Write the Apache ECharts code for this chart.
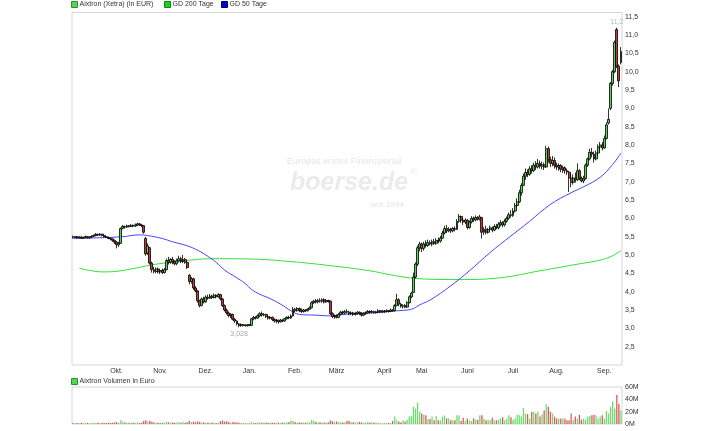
<!DOCTYPE html>
<html>
<head>
<meta charset="utf-8">
<script src="https://cdn.jsdelivr.net/npm/echarts@6/dist/echarts.min.js"></script>
<style>
  html, body { margin: 0; padding: 0; background: #fff; }
  #main { width: 719px; height: 431px; }
</style>
</head>
<body>
<div id="main"></div>
<script>
// Aixtron (Xetra), Tageskerzen [open, close, low, high] ab 05.09.2016
const ohlc = [
  // Sep. 2016
  [5.50,5.48,5.45,5.53],[5.48,5.50,5.46,5.52],[5.50,5.47,5.45,5.52],[5.47,5.49,5.45,5.51],[5.49,5.46,5.44,5.51],
  [5.46,5.48,5.44,5.50],[5.48,5.50,5.46,5.53],[5.50,5.47,5.45,5.52],[5.47,5.49,5.45,5.51],[5.49,5.51,5.47,5.54],
  [5.51,5.53,5.49,5.56],[5.53,5.56,5.51,5.60],[5.56,5.54,5.52,5.59],[5.54,5.57,5.52,5.60],[5.57,5.53,5.51,5.58],
  [5.53,5.50,5.48,5.55],[5.50,5.48,5.46,5.52],[5.48,5.45,5.43,5.50],[5.45,5.44,5.40,5.48],[5.44,5.40,5.36,5.46],
  // Okt.
  [5.40,5.35,5.30,5.42],[5.35,5.28,5.18,5.38],[5.28,5.32,5.22,5.36],[5.32,5.72,5.30,5.75],[5.72,5.78,5.70,5.82],
  [5.78,5.76,5.72,5.80],[5.76,5.80,5.74,5.83],[5.80,5.78,5.75,5.82],[5.78,5.81,5.76,5.84],[5.81,5.79,5.76,5.83],
  [5.79,5.82,5.77,5.86],[5.82,5.85,5.79,5.88],[5.85,5.82,5.79,5.87],[5.82,5.80,5.76,5.85],[5.80,5.62,5.58,5.82],
  [5.45,5.03,4.98,5.50],[5.05,5.25,5.00,5.32],[5.20,4.78,4.74,5.22],[4.78,4.60,4.52,4.82],[4.60,4.55,4.50,4.68],
  [4.55,4.62,4.50,4.66],
  // Nov.
  [4.62,4.54,4.50,4.66],[4.54,4.58,4.48,4.62],[4.58,4.52,4.48,4.63],[4.52,4.60,4.50,4.65],
  [4.60,4.85,4.58,4.90],[4.85,4.80,4.74,4.95],[4.80,4.88,4.76,4.92],[4.88,4.82,4.75,4.95],[4.82,4.76,4.72,4.86],
  [4.76,4.84,4.72,4.90],[4.84,4.90,4.80,4.98],[4.90,4.82,4.78,4.95],[4.82,4.88,4.78,5.00],[4.88,4.80,4.76,4.92],
  [4.80,4.66,4.62,4.82],[4.45,4.28,4.20,4.48],[4.28,4.35,4.22,4.40],[4.35,4.10,4.05,4.38],[4.10,4.02,3.98,4.15],
  [4.02,3.75,3.70,4.05],[3.75,3.62,3.57,3.78],[3.62,3.80,3.60,3.84],
  // Dez.
  [3.80,3.72,3.68,3.86],[3.72,3.85,3.70,3.90],[3.85,3.82,3.78,3.92],[3.82,3.88,3.80,3.94],[3.88,3.84,3.80,3.92],
  [3.84,3.90,3.82,3.95],[3.90,3.86,3.82,3.93],[3.86,3.92,3.84,3.96],[3.92,3.80,3.76,3.94],[3.80,3.62,3.58,3.82],
  [3.62,3.50,3.46,3.65],[3.50,3.42,3.38,3.54],[3.42,3.35,3.30,3.46],[3.35,3.38,3.28,3.42],[3.38,3.25,3.22,3.40],
  [3.25,3.20,3.15,3.28],[3.20,3.12,3.08,3.22],[3.12,3.08,3.028,3.14],[3.08,3.10,3.04,3.13],[3.10,3.08,3.05,3.12],
  [3.08,3.07,3.05,3.11],
  // Jan. 2017
  [3.07,3.10,3.05,3.12],[3.10,3.08,3.06,3.12],[3.08,3.26,3.07,3.28],[3.26,3.30,3.22,3.34],[3.30,3.28,3.24,3.33],
  [3.28,3.34,3.26,3.38],[3.34,3.40,3.30,3.44],[3.40,3.36,3.32,3.46],[3.36,3.38,3.33,3.42],[3.38,3.32,3.28,3.40],
  [3.32,3.28,3.24,3.35],[3.28,3.30,3.24,3.33],[3.30,3.24,3.20,3.32],[3.24,3.20,3.16,3.27],[3.20,3.22,3.14,3.26],
  [3.22,3.18,3.13,3.24],[3.18,3.22,3.16,3.26],[3.22,3.20,3.17,3.25],[3.20,3.26,3.18,3.28],[3.26,3.30,3.24,3.33],
  [3.30,3.28,3.25,3.34],[3.28,3.34,3.26,3.38],
  // Feb.
  [3.34,3.52,3.32,3.58],[3.52,3.48,3.44,3.56],[3.48,3.54,3.46,3.58],[3.54,3.50,3.44,3.57],[3.50,3.46,3.42,3.54],
  [3.46,3.50,3.43,3.53],[3.50,3.48,3.44,3.52],[3.48,3.52,3.46,3.55],[3.52,3.56,3.50,3.60],[3.56,3.70,3.54,3.74],
  [3.70,3.74,3.66,3.78],[3.74,3.72,3.68,3.80],[3.72,3.76,3.68,3.80],[3.76,3.74,3.70,3.82],[3.74,3.78,3.70,3.82],
  [3.78,3.72,3.68,3.82],[3.72,3.76,3.70,3.80],[3.76,3.74,3.70,3.78],[3.74,3.40,3.36,3.76],[3.40,3.32,3.28,3.44],
  // März
  [3.32,3.34,3.26,3.38],[3.34,3.30,3.27,3.38],[3.30,3.38,3.28,3.42],[3.38,3.44,3.35,3.48],[3.44,3.42,3.38,3.48],
  [3.42,3.46,3.38,3.50],[3.46,3.44,3.40,3.52],[3.44,3.40,3.36,3.48],[3.40,3.42,3.36,3.46],[3.42,3.38,3.34,3.45],
  [3.38,3.40,3.35,3.44],[3.40,3.44,3.37,3.47],[3.44,3.40,3.36,3.46],[3.40,3.36,3.32,3.44],[3.36,3.40,3.34,3.44],
  [3.40,3.42,3.37,3.46],[3.42,3.46,3.40,3.50],[3.46,3.44,3.40,3.49],[3.44,3.46,3.41,3.50],[3.46,3.43,3.40,3.48],
  [3.43,3.45,3.40,3.48],[3.45,3.48,3.42,3.52],[3.48,3.45,3.42,3.50],
  // April
  [3.45,3.47,3.43,3.50],[3.47,3.46,3.42,3.50],[3.46,3.48,3.44,3.52],[3.48,3.46,3.43,3.50],[3.46,3.50,3.44,3.54],
  [3.50,3.48,3.45,3.52],[3.48,3.62,3.46,3.66],[3.62,3.78,3.60,3.94],[3.78,3.66,3.60,3.82],[3.66,3.60,3.56,3.70],
  [3.60,3.62,3.54,3.66],[3.62,3.58,3.55,3.66],[3.58,3.70,3.56,3.74],[3.70,3.86,3.68,3.90],[3.86,3.96,3.82,4.00],
  [3.98,4.40,3.96,4.52],[4.40,4.75,4.36,4.80],[4.75,5.20,4.70,5.26],
  // Mai
  [5.20,5.30,5.10,5.36],[5.30,5.18,5.08,5.34],[5.18,5.30,5.12,5.36],[5.30,5.26,5.20,5.40],[5.26,5.34,5.22,5.42],
  [5.34,5.30,5.26,5.40],[5.30,5.36,5.24,5.42],[5.36,5.32,5.28,5.44],[5.32,5.40,5.28,5.46],[5.40,5.38,5.32,5.48],
  [5.38,5.46,5.34,5.52],[5.46,5.60,5.44,5.66],[5.60,5.72,5.56,5.80],[5.72,5.66,5.60,5.82],[5.66,5.70,5.62,5.76],
  [5.70,5.66,5.60,5.74],[5.66,5.72,5.62,5.76],[5.72,5.70,5.64,5.78],[5.70,5.92,5.68,5.98],[5.92,6.05,5.88,6.12],
  [6.05,5.95,5.88,6.08],[5.95,5.90,5.82,6.00],
  // Juni
  [5.90,5.95,5.84,6.00],[5.95,5.75,5.70,5.98],[5.75,5.90,5.72,5.94],[5.90,6.00,5.86,6.06],[6.00,5.96,5.90,6.05],
  [5.96,6.02,5.92,6.08],[6.02,5.98,5.94,6.06],[5.98,6.04,5.94,6.10],[6.02,5.62,5.45,6.04],[5.62,5.70,5.55,5.76],
  [5.70,5.62,5.56,5.80],[5.62,5.70,5.58,5.74],[5.70,5.74,5.64,5.80],[5.74,5.68,5.62,5.78],[5.68,5.78,5.65,5.84],
  [5.78,5.74,5.70,5.85],[5.74,5.84,5.70,5.90],[5.84,5.88,5.78,5.95],[5.88,5.82,5.76,5.92],[5.82,5.92,5.78,5.98],
  [5.92,6.00,5.88,6.05],[6.00,6.10,5.96,6.16],
  // Juli
  [6.10,6.08,6.02,6.22],[6.08,6.20,6.04,6.28],[6.20,6.35,6.16,6.42],[6.35,6.45,6.28,6.55],[6.45,6.70,6.42,6.78],
  [6.70,6.90,6.62,6.96],[6.90,7.15,6.88,7.22],[7.15,7.25,7.05,7.36],[7.25,7.20,7.12,7.34],[7.20,7.35,7.16,7.42],
  [7.35,7.30,7.22,7.45],[7.30,7.45,7.26,7.52],[7.45,7.40,7.32,7.56],[7.40,7.50,7.36,7.62],[7.50,7.42,7.36,7.58],
  [7.42,7.46,7.34,7.55],[7.46,7.40,7.32,7.52],[7.40,7.90,7.38,7.98],[7.90,7.60,7.52,7.96],[7.60,7.50,7.40,7.68],
  [7.50,7.58,7.42,7.70],
  // Aug.
  [7.58,7.45,7.36,7.66],[7.45,7.40,7.32,7.52],[7.40,7.44,7.30,7.50],[7.44,7.34,7.26,7.48],[7.34,7.38,7.24,7.44],
  [7.38,7.30,7.22,7.42],[7.30,7.26,7.18,7.36],[7.26,7.10,6.72,7.30],[7.10,6.98,6.85,7.20],[6.98,7.10,6.92,7.20],
  [7.10,7.05,6.98,7.25],[7.05,7.30,7.02,7.50],[7.30,7.10,7.04,7.34],[7.10,7.02,6.98,7.14],[7.02,7.08,6.96,7.16],
  [7.08,7.45,7.06,7.50],[7.45,7.62,7.40,7.66],[7.62,7.80,7.58,7.90],[7.80,7.75,7.66,7.92],[7.75,7.62,7.52,7.82],
  [7.62,7.78,7.58,7.85],[7.78,7.95,7.72,8.02],[7.95,8.00,7.86,8.08],
  // Sep.
  [8.00,7.92,7.85,8.08],[7.92,8.18,7.90,8.26],[8.18,8.55,8.15,8.62],[8.60,8.70,8.56,9.00],[9.00,9.68,8.95,9.72],
  [9.68,10.00,9.62,10.05],[10.00,10.80,9.96,10.85],[11.15,10.15,10.10,11.20],[10.15,9.75,9.58,10.20],[10.25,10.55,10.20,10.67]
]

// Umsatz in Mio. Euro je Handelstag
const volume = [
  1.5,1.2,1.8,1.4,2.0,1.6,1.3,1.9,1.5,1.7, 2.1,1.8,2.4,1.6,1.9,1.5,1.8,2.2,1.7,2.0,
  2.6,3.4,2.2,6.2,4.1,2.5,2.0,1.8,2.3,1.9, 2.1,2.6,1.8,2.2,4.8,6.0,4.2,5.1,3.8,2.6,
  2.2,1.9,2.4,1.8,2.0,3.6,2.8,2.1,2.4,1.9, 2.3,2.8,2.0,3.1,2.2,3.0,5.2,3.4,3.9,2.8,
  4.1,3.6,2.4,2.9,2.2,2.6,1.9,2.3,2.0,1.8, 2.2,4.6,5.8,3.9,4.4,3.1,2.6,3.3,2.8,2.4,
  2.0,1.6,1.2,1.0,1.3,1.1,2.9,2.2,1.8,2.4, 2.8,2.1,2.5,1.9,2.2,2.6,2.0,1.8,2.3,2.1,
  1.9,2.4,2.2,2.8,3.1,6.1,5.0,3.2,2.6,2.3, 2.0,2.4,2.2,2.6,3.0,7.0,5.2,3.4,2.5,2.8,
  2.4,2.1,2.7,2.3,5.8,4.6,3.5,4.2,2.8,3.2, 2.6,3.0,4.8,5.4,3.1,2.7,2.4,2.9,3.6,2.5,
  2.2,2.6,3.2,2.4,2.8,2.1,2.5,2.0,
  1.0,1.2,1.0,1.3,1.5,2.0,5.0,12,6,4, 3,6,4,7,12,13,28,25,35,20,
  17,15,14,8,8,12,6,13,6,6, 12,14,9,9,6,6,6,14,14,5,
  10,5,9,6,5,9,7,7,14,14, 9,6,7,6,10,6,6,7,9,11,
  6,9,14,11,7,9,15,14,12,26, 17,16,9,20,20,17,20,12,16,22,
  32,28,20,17,12,9,9,9,9,9, 6,6,17,7,12,9,15,7,9,7,
  12,13,14,15,14,9,12,14,9,21, 17,28,37,25,47,33,22
]

const gd50 = [
  [0,5.45],[12,5.47],[24,5.50],[32,5.55],[36,5.53],[43,5.45],[48,5.36],[54,5.27],[59,5.16],[64,5.00],
  [69,4.80],[73,4.59],[78,4.41],[83,4.22],[86,4.06],[90,3.93],[95,3.81],[100,3.66],[105,3.48],[109,3.38],
  [117,3.36],[124,3.34],[129,3.37],[138,3.41],[148,3.43],[154,3.47],[161,3.50],[164,3.54],[167,3.64],[172,3.77],
  [182,4.16],[191,4.57],[201,5.07],[211,5.52],[220,5.92],[230,6.38],[240,6.70],[246,6.86],[254,7.12],[260,7.47],
  [264,7.78]
]
const gd200 = [
  [3,4.64],[8,4.58],[14,4.54],[20,4.55],[28,4.62],[38,4.73],[44,4.78],[52,4.83],[60,4.88],[68,4.90],
  [86,4.89],[105,4.82],[124,4.71],[143,4.57],[153,4.46],[162,4.38],[172,4.34],[186,4.33],[206,4.38],[225,4.57],
  [244,4.76],[254,4.86],[260,4.98],[264,5.12]
]

const holidays = ['2016-12-26', '2017-04-14', '2017-04-17', '2017-05-01']
const monthNames = ['Jan.', 'Feb.', 'März', 'April', 'Mai', 'Juni', 'Juli', 'Aug.', 'Sep.', 'Okt.', 'Nov.', 'Dez.']
const yTickLabels = ['2,5', '3,0', '3,5', '4,0', '4,5', '5,0', '5,5', '6,0', '6,5', '7,0', '7,5', '8,0', '8,5', '9,0', '9,5', '10,0', '10,5', '11,0', '11,5']
const volTickLabels = ['0M', '20M', '40M', '60M']

// Xetra-Handelstage
const dates = []
let d = new Date(Date.UTC(2016, 8, 5))
while (dates.length < ohlc.length) {
  const wd = d.getUTCDay()
  const s = d.toISOString().slice(0, 10)
  if (wd !== 0 && wd !== 6 && holidays.indexOf(s) < 0) dates.push(s)
  d.setUTCDate(d.getUTCDate() + 1)
}

const monthStart = (i) => i > 0 && dates[i].slice(5, 7) !== dates[i - 1].slice(5, 7)
const font = "'Liberation Sans', Arial, sans-serif"
const upColor = '#55d455'
const downColor = '#c83a3a'
const wmColor = '#ebebeb'

const chart = echarts.init(document.getElementById('main'))
chart.setOption({
  animation: false,
  textStyle: { fontFamily: font },
  legend: [
    {
      data: ['Aixtron (Xetra) (in EUR)'], left: 71, top: 1, padding: 0, icon: 'rect',
      itemWidth: 6, itemHeight: 6, itemStyle: { borderColor: '#2f8f2f', borderWidth: 1 },
      textStyle: { fontSize: 7, color: '#333', padding: [0, 0, 0, -3] }
    },
    {
      data: ['GD 200 Tage'], left: 164, top: 1, padding: 0, icon: 'rect',
      itemWidth: 6, itemHeight: 6, itemStyle: { color: '#22cc22', borderColor: '#118811', borderWidth: 1 },
      textStyle: { fontSize: 7, color: '#333', padding: [0, 0, 0, -3] }
    },
    {
      data: ['GD 50 Tage'], left: 221, top: 1, padding: 0, icon: 'rect',
      itemWidth: 6, itemHeight: 6, itemStyle: { color: '#0000cc', borderColor: '#000077', borderWidth: 1 },
      textStyle: { fontSize: 7, color: '#333', padding: [0, 0, 0, -3] }
    },
    {
      data: ['Aixtron Volumen in Euro'], left: 71, top: 378, padding: 0, icon: 'rect',
      itemWidth: 6, itemHeight: 6, itemStyle: { color: upColor, borderColor: '#2f8f2f', borderWidth: 1 },
      textStyle: { fontSize: 7, color: '#333', padding: [0, 0, 0, -3] }
    }
  ],
  grid: [
    { left: 72, right: 97, top: 12.5, height: 352.5, show: true, borderColor: '#d6d6d6', borderWidth: 1 },
    { left: 72, right: 97, top: 387, height: 37, show: true, borderColor: '#d6d6d6', borderWidth: 1 }
  ],
  xAxis: [
    {
      type: 'category', gridIndex: 0, data: dates, boundaryGap: true,
      axisLine: { show: false }, axisTick: { show: false }, splitLine: { show: false },
      axisLabel: {
        interval: (i) => monthStart(i),
        formatter: (v) => monthNames[+v.slice(5, 7) - 1],
        fontSize: 7, color: '#333', margin: 3, padding: [0, 0, 0, 4]
      }
    },
    {
      type: 'category', gridIndex: 1, data: dates, boundaryGap: true,
      axisLine: { show: false }, axisTick: { show: false }, axisLabel: { show: false }
    }
  ],
  yAxis: [
    {
      type: 'value', gridIndex: 0, position: 'right', min: 2, max: 11.615, interval: 0.5,
      axisLine: { show: false }, axisTick: { show: false }, splitLine: { show: false },
      axisLabel: {
        fontSize: 7, color: '#333', margin: 3,
        formatter: (v) => {
          const t = v.toFixed(1).replace('.', ',')
          return yTickLabels.indexOf(t) >= 0 && Math.abs(v * 2 - Math.round(v * 2)) < 1e-6 ? t : ''
        }
      }
    },
    {
      type: 'value', gridIndex: 1, position: 'right', min: 0, max: 60, interval: 20,
      axisLine: { show: false }, axisTick: { show: false }, splitLine: { show: false },
      axisLabel: { fontSize: 7, color: '#333', margin: 3, formatter: (v) => volTickLabels[Math.round(v / 20)] }
    }
  ],
  // Wasserzeichen
  graphic: [
    { type: 'text', left: 287, top: 157, silent: true,
      style: { text: 'Europas erstes Finanzportal', fill: wmColor, font: "bold 8.5px 'Liberation Sans', Arial, sans-serif" } },
    { type: 'text', left: 290, top: 171, silent: true,
      style: { text: 'boerse.de', fill: wmColor, font: "italic bold 25px 'Liberation Sans', Arial, sans-serif" } },
    { type: 'text', left: 410, top: 168, silent: true,
      style: { text: '®', fill: wmColor, font: "9px 'Liberation Sans', Arial, sans-serif" } },
    { type: 'text', left: 370, top: 201, silent: true,
      style: { text: 'seit 1994', fill: wmColor, font: "bold 8px 'Liberation Sans', Arial, sans-serif" } }
  ],
  series: [
    {
      name: 'GD 200 Tage', type: 'line', xAxisIndex: 0, yAxisIndex: 0, data: gd200,
      smooth: 0.4, symbol: 'none', lineStyle: { color: '#33e033', width: 1 }, itemStyle: { color: '#22cc22' }, z: 1
    },
    {
      name: 'GD 50 Tage', type: 'line', xAxisIndex: 0, yAxisIndex: 0, data: gd50,
      smooth: 0.4, symbol: 'none', lineStyle: { color: '#4444ff', width: 1 }, itemStyle: { color: '#0000cc' }, z: 1
    },
    {
      name: 'Aixtron (Xetra) (in EUR)', type: 'candlestick', xAxisIndex: 0, yAxisIndex: 0, data: ohlc,
      barWidth: 2.4, z: 3,
      itemStyle: { color: upColor, color0: downColor, borderColor: '#000', borderColor0: '#000', borderWidth: 0.8 },
      markPoint: {
        symbol: 'circle', symbolSize: 0.1, itemStyle: { color: 'transparent' },
        label: { show: true, fontSize: 7, color: '#a9bdd6', formatter: (p) => String(p.value).replace('.', ',') },
        data: [
          { type: 'max', valueDim: 'highest', label: { position: 'top', distance: 2 } },
          { type: 'min', valueDim: 'lowest', label: { position: 'bottom', distance: 3, color: '#a8a8a8' } }
        ]
      }
    },
    {
      name: 'Aixtron Volumen in Euro', type: 'bar', xAxisIndex: 1, yAxisIndex: 1, data: volume,
      barWidth: 1.3,
      itemStyle: { color: (p) => (ohlc[p.dataIndex][1] >= ohlc[p.dataIndex][0] ? '#6ddc6d' : '#dc5a5a') }
    }
  ]
})
</script>
</body>
</html>
